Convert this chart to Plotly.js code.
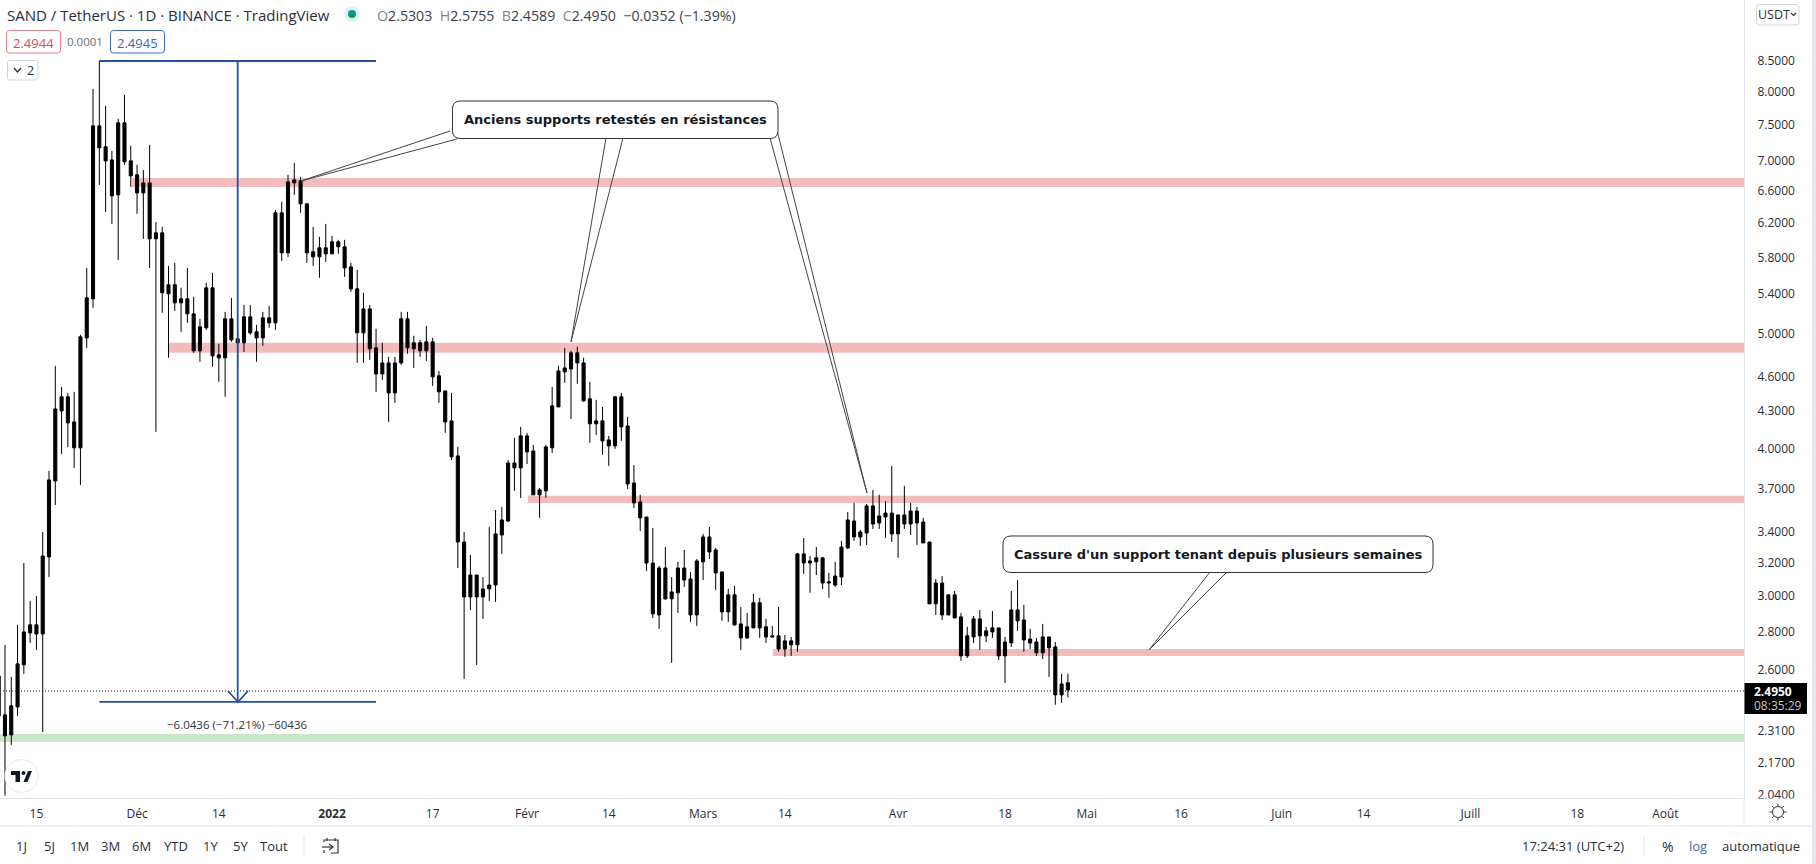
<!DOCTYPE html>
<html><head><meta charset="utf-8">
<script src="https://cdn.plot.ly/plotly-3.0.1.min.js"></script>
<style>html,body{margin:0;padding:0;background:#fff;overflow:hidden}#c{width:1816px;height:864px}</style>
</head><body><div id="c"></div>
<script>
const firstDay = '2021-11-09';
const opens = [2.564,2.377,2.286,2.414,2.620,2.788,2.832,2.782,3.232,3.747,4.294,4.413,4.203,3.996,4.949,5.340,7.476,7.177,6.997,6.537,7.520,6.984,6.796,6.562,6.691,6.001,6.071,5.392,5.488,5.298,5.340,5.186,4.826,5.047,5.455,4.789,4.761,5.136,4.940,4.902,5.156,5.008,4.949,5.146,5.096,6.312,5.840,6.691,6.717,6.424,5.851,5.794,5.897,5.828,5.966,5.909,5.682,5.445,4.998,5.236,4.854,4.614,4.714,4.447,4.714,5.136,4.845,4.902,4.826,4.911,4.597,4.464,4.211,3.934,3.327,2.990,3.120,2.990,3.037,3.060,3.373,3.466,3.880,3.843,4.090,3.972,3.647,3.675,3.996,4.327,4.632,4.659,4.807,4.714,4.396,4.187,4.211,4.058,4.011,4.413,4.170,3.732,3.597,3.493,3.194,2.887,3.163,2.979,3.014,3.163,3.096,2.887,3.201,3.360,3.276,3.139,2.904,3.002,2.837,2.761,2.815,2.956,2.821,2.772,2.772,2.702,2.724,2.724,3.251,3.194,3.201,3.226,3.072,3.060,3.108,3.289,3.466,3.360,3.386,3.569,3.453,3.493,3.520,3.380,3.507,3.446,3.534,3.459,3.327,2.950,3.072,2.887,3.002,2.876,2.666,2.766,2.865,2.772,2.793,2.815,2.666,2.734,2.915,2.859,2.755,2.739,2.682,2.766,2.713,2.471,2.5303];
const closes = [2.372,2.282,2.419,2.625,2.793,2.832,2.782,3.238,3.754,4.310,4.413,4.195,3.996,4.959,5.350,7.476,7.163,6.984,6.524,7.520,6.970,6.783,6.562,6.691,6.001,6.071,5.403,5.488,5.298,5.340,5.186,4.826,5.057,5.455,4.779,4.761,5.136,4.930,4.902,5.156,4.998,4.949,5.146,5.096,6.312,5.840,6.704,6.730,6.424,5.840,5.794,5.897,5.828,5.966,5.909,5.671,5.445,4.998,5.236,4.845,4.614,4.714,4.447,4.714,5.136,4.854,4.902,4.826,4.911,4.588,4.456,4.203,3.926,3.327,2.990,3.120,2.990,3.037,3.060,3.380,3.473,3.880,3.843,4.090,3.965,3.647,3.682,4.003,4.336,4.641,4.668,4.807,4.714,4.379,4.187,4.211,4.050,4.011,4.413,4.162,3.725,3.590,3.487,3.194,2.893,3.163,2.979,3.019,3.163,3.090,2.887,3.207,3.360,3.263,3.133,2.904,3.002,2.832,2.761,2.821,2.956,2.815,2.766,2.766,2.702,2.745,2.745,3.251,3.194,3.207,3.226,3.072,3.078,3.114,3.295,3.473,3.360,3.393,3.569,3.446,3.500,3.520,3.380,3.507,3.446,3.534,3.453,3.321,2.950,3.072,2.887,3.002,2.870,2.666,2.772,2.865,2.772,2.799,2.815,2.666,2.739,2.915,2.854,2.750,2.734,2.682,2.766,2.708,2.471,2.524,2.4950];
const highs = [2.594,2.723,2.559,2.832,3.194,2.967,2.996,3.393,3.821,4.687,4.499,4.447,4.456,4.979,5.671,8.034,8.484,7.773,7.121,7.578,7.941,7.191,6.930,6.862,7.205,6.202,6.142,5.693,5.727,5.456,5.671,5.361,5.136,5.509,5.617,4.892,5.206,5.350,5.027,5.277,5.277,5.076,5.206,5.267,6.349,6.449,6.796,6.957,6.770,6.424,6.142,6.024,6.178,6.036,5.989,5.989,5.727,5.649,5.403,5.277,5.037,4.902,4.770,4.770,5.206,5.206,4.969,4.930,5.066,4.949,4.641,4.464,4.447,4.003,3.393,3.244,3.120,3.108,3.426,3.541,3.562,3.903,4.074,4.162,4.114,4.019,3.696,4.019,4.499,4.687,4.854,4.826,4.864,4.761,4.543,4.387,4.327,4.090,4.421,4.447,4.244,3.865,3.647,3.493,3.419,3.176,3.295,3.108,3.201,3.276,3.139,3.219,3.380,3.426,3.289,3.139,3.037,3.055,2.932,2.898,3.008,2.985,2.865,2.826,2.932,2.777,2.766,3.257,3.353,3.238,3.295,3.232,3.133,3.201,3.334,3.527,3.590,3.406,3.583,3.682,3.647,3.604,3.858,3.507,3.711,3.590,3.562,3.487,3.327,3.096,3.114,3.002,3.025,2.898,2.821,2.881,2.915,2.821,2.909,2.815,2.766,3.025,3.090,2.944,2.810,2.761,2.837,2.766,2.739,2.574,2.5755];
const lows = [2.345,2.031,2.242,2.372,2.574,2.734,2.697,2.299,3.108,3.576,3.949,4.003,3.843,3.718,4.854,5.247,6.665,6.324,6.178,5.760,6.930,6.639,6.300,6.001,5.671,4.122,5.196,4.761,5.216,5.008,5.096,4.807,4.724,5.027,4.678,4.543,4.413,4.911,4.668,4.816,4.979,4.724,4.873,5.047,5.027,5.749,5.794,6.537,6.312,5.727,5.693,5.563,5.738,5.828,5.828,5.573,5.413,4.714,4.714,4.742,4.456,4.561,4.203,4.362,4.696,4.798,4.668,4.770,4.733,4.508,4.362,4.114,3.903,3.163,2.549,2.915,2.619,2.865,2.967,2.961,3.251,3.459,3.675,3.625,3.873,3.647,3.487,3.625,3.957,4.327,4.535,4.227,4.526,4.370,4.035,4.098,3.942,3.858,3.988,4.050,3.689,3.555,3.399,3.145,2.870,2.810,2.973,2.630,2.898,3.049,2.848,2.826,3.090,3.219,3.031,2.854,2.848,2.826,2.697,2.755,2.815,2.761,2.734,2.766,2.687,2.661,2.666,2.687,3.127,3.014,3.120,3.037,2.985,3.049,3.060,3.282,3.334,3.302,3.308,3.413,3.413,3.353,3.327,3.226,3.413,3.373,3.308,3.321,2.950,2.887,2.859,2.887,2.870,2.640,2.655,2.734,2.697,2.739,2.761,2.645,2.529,2.713,2.799,2.687,2.702,2.666,2.650,2.559,2.424,2.433,2.4589];

const xTickDates = ['2021-11-15','2021-12-01','2021-12-14','2022-01-01','2022-01-17','2022-02-01','2022-02-14','2022-03-01','2022-03-14','2022-04-01','2022-04-18','2022-05-01','2022-05-16','2022-06-01','2022-06-14','2022-07-01','2022-07-18','2022-08-01'];
const xTickLabels = ['15','Déc','14','<b>2022</b>','17','Févr','14','Mars','14','Avr','18','Mai','16','Juin','14','Juill','18','Août'];
const yTicks = [9.5,8.5,8,7.5,7,6.6,6.2,5.8,5.4,5,4.6,4.3,4,3.7,3.4,3.2,3,2.8,2.6,2.31,2.17,2.04];
const zoneStarts = ['2021-11-30 05:00','2021-12-05 22:00','2022-02-01 03:00','2022-03-12 02:00'];
const zoneTops = [6.756,4.902,3.640,2.702];
const zoneBottoms = [6.639,4.807,3.590,2.666];
const supportTop = 2.290, supportBottom = 2.255;
const measureTop = 8.4817, measureBottom = 2.4381;
const measureStart = '2021-11-25', measureMid = '2021-12-17', measureEnd = '2022-01-08';

const dates = opens.map((_, i) => new Date(Date.parse(firstDay + 'T00:00:00Z') + i * 864e5).toISOString().slice(0, 10));

const PW = 1744, PH = 798;
const X = p => p / PW, Y = p => 1 - p / PH;
const UI = '"Open Sans", sans-serif', BOLD = '"DejaVu Sans", sans-serif';
const shapes = [], ann = [];
const base = {xref:'paper', yref:'paper'};
function rect(x0,y0,x1,y1,fill,line,lw,layer){shapes.push({...base,type:'rect',x0:X(x0),x1:X(x1),y0:Y(y0),y1:Y(y1),fillcolor:fill||'rgba(0,0,0,0)',line:{color:line||'rgba(0,0,0,0)',width:lw===undefined?(line?1:0):lw},layer:layer||'above'});}
function poly(pts,color,w,fill,close){let d=pts.map((p,i)=>(i?'L':'M')+X(p[0]).toFixed(6)+' '+Y(p[1]).toFixed(6)).join(' ')+(close?' Z':'');shapes.push({...base,type:'path',path:d,line:{color:color||'rgba(0,0,0,0)',width:w===undefined?1:w},fillcolor:fill||'rgba(0,0,0,0)',layer:'above'});}
function rrect(x0,y0,x1,y1,r,fill,line,lw){const f=(x,y)=>X(x).toFixed(6)+' '+Y(y).toFixed(6);const d=`M${f(x0+r,y0)} L${f(x1-r,y0)} Q${f(x1,y0)} ${f(x1,y0+r)} L${f(x1,y1-r)} Q${f(x1,y1)} ${f(x1-r,y1)} L${f(x0+r,y1)} Q${f(x0,y1)} ${f(x0,y1-r)} L${f(x0,y0+r)} Q${f(x0,y0)} ${f(x0+r,y0)} Z`;shapes.push({...base,type:'path',path:d,fillcolor:fill||'#fff',line:{color:line,width:lw===undefined?1:lw},layer:'above'});}
function circ(cx,cy,r,fill,line,lw){shapes.push({...base,type:'circle',x0:X(cx-r),x1:X(cx+r),y0:Y(cy-r),y1:Y(cy+r),fillcolor:fill||'rgba(0,0,0,0)',line:{color:line||'rgba(0,0,0,0)',width:lw===undefined?(line?1:0):lw},layer:'above'});}
function T(text,x,y,size,color,anchor,family){ann.push({xref:'paper',yref:'paper',x:X(x),y:Y(y),text,showarrow:false,xanchor:anchor||'center',yanchor:'middle',font:{size,color:color||'#131722',family:family||UI},borderpad:0,borderwidth:0});}

// horizontal zones (data coords, under the candles)
zoneStarts.forEach((s,i)=>shapes.push({type:'rect',xref:'x',yref:'y',x0:s,x1:'2022-08-14',y0:zoneBottoms[i],y1:zoneTops[i],fillcolor:'#f2bcbc',line:{width:0},layer:'below'}));
shapes.push({type:'rect',xref:'x',yref:'y',x0:'2021-11-01',x1:'2022-08-14',y0:supportBottom,y1:supportTop,fillcolor:'#c9e6ca',line:{width:0},layer:'below'});
// last price dotted line
poly([[3,691],[1744,691]],'#131722',1);
shapes[shapes.length-1].line.dash='1px,2px';
// measuring tool
const BLUE='#23509f';
[[measureStart,measureEnd,measureTop,measureTop],[measureStart,measureEnd,measureBottom,measureBottom],[measureMid,measureMid,measureTop,measureBottom]].forEach(a=>shapes.push({type:'line',xref:'x',yref:'y',x0:a[0],x1:a[1],y0:a[2],y1:a[3],line:{color:BLUE,width:1.8},layer:'above'}));
poly([[228,691],[238,702],[248,691]],BLUE,1.8);
T('−6.0436 (−71.21%) −60436',237,724,11.5,'#333');

// callouts
const LC='#444';
poly([[450,131],[301,181],[457,139]],LC,1);
poly([[606,138],[571,342],[623,138]],LC,1);
poly([[770,138],[867,493],[777,130]],LC,1);
poly([[1210,572],[1149,650],[1227,572]],LC,1);
rrect(452.5,101,778,138.5,8,'#fff','#333',1);
rrect(1003,536,1433,572.5,8,'#fff','#333',1);
T('<b>Anciens supports retestés en résistances</b>',615,119.5,13,'#131722','center',BOLD);
T('<b>Cassure d\'un support tenant depuis plusieurs semaines</b>',1218,554.5,13,'#131722','center',BOLD);

// header
T('SAND / TetherUS · 1D · BINANCE · TradingView',7,15,15,'#2a2e39','left');
circ(352,14,8,'#dff3ee');circ(352,14,4,'#089981');
const gv=s=>`<span style="color:#808591">${s}</span>`;
const sp='\u00a0\u00a0';
T(`${gv('O')}2.5303${sp}${gv('H')}2.5755${sp}${gv('B')}2.4589${sp}${gv('C')}2.4950${sp}−0.0352 (−1.39%)`,377,15,14.2,'#3c404b','left');
rrect(6.5,30.5,60.5,53,3,'#fff','#d9838a',1);T('2.4944',33.5,42.5,13,'#d0505a');
T('0.0001',85,42,11.5,'#6a6d78');
rrect(110.5,30.5,164.5,53,3,'#fff','#3f68b5',1);T('2.4945',137.5,42.5,13,'#3f68b5');
rrect(7.5,60.5,38,80,2,'#fff','#d1d4dc',1);poly([[14,68],[17.5,72],[21,68]],'#333',1.4);T('2',30,70.5,12.5,'#333');

// TradingView logo
circ(21.5,776,16.5,'#fff','#ebebeb',1);
poly([[11,771],[20,771],[20,782],[15.5,782],[15.5,775],[11,775]],null,0,'#131722',true);
circ(23.5,773,2,'#131722');
poly([[23.5,782],[28,771],[32,771],[27.5,782]],null,0,'#131722',true);

// axis panels
rect(1744.5,798.5,1812,826,'#fff');
rect(1812,0,1816,864,'#e6e7ee');
poly([[0,826],[1812,826]],'#e0e3eb',1);
poly([[1744,798],[1744,826]],'#e0e3eb',1);
circ(1778,812,5.5,null,'#333',1);
[[1778,803.5,1778,806],[1778,818,1778,820.5],[1769.5,812,1772,812],[1784,812,1786.5,812],[1772,806,1773.7,807.7],[1784,806,1782.3,807.7],[1772,818,1773.7,816.3],[1784,818,1782.3,816.3]].forEach(s=>poly([[s[0],s[1]],[s[2],s[3]]],'#333',1));

// price axis widgets
rrect(1756.5,4.5,1799,25,3,'#fff','#d1d4dc',1);T('USDT',1774,14.5,12.5,'#333');poly([[1791,13],[1793.5,15.5],[1796,13]],'#333',1.2);
rect(1744.5,683,1807,714,'#000');
T('<b>2.4950</b>',1754,691.5,12,'#fff','left');T('08:35:29',1754,705.5,12,'#c8c8c8','left');

// bottom toolbar
[['1J',21],['5J',49],['1M',79],['3M',110],['6M',141],['YTD',176],['1Y',210],['5Y',240],['Tout',274]].forEach(b=>T(b[0],b[1],846,13,'#2a2e39'));
poly([[304,836],[304,857]],'#e0e3eb',1);
poly([[324,842],[324,840],[338,840],[338,853],[331,853]],'#333',1.2);
poly([[322,847],[333,847]],'#333',1.2);poly([[329,844],[333,847],[329,850]],'#333',1.2);poly([[324,850],[324,853]],'#333',1.2);
poly([[327,838],[327,841]],'#333',1.2);poly([[335,838],[335,841]],'#333',1.2);
T('17:24:31 (UTC+2)',1573,846,13,'#2a2e39');
poly([[1644,836],[1644,856]],'#e0e3eb',1);
T('%',1668,846,14,'#2a2e39');T('log',1698,846,13,'#3f68b5');T('automatique',1761,846,13,'#2a2e39');

const trace = {type:'candlestick',x:dates,open:opens,high:highs,low:lows,close:closes,whiskerwidth:0,hoverinfo:'x',showlegend:false,
  increasing:{line:{color:'#000',width:1},fillcolor:'#000'},decreasing:{line:{color:'#000',width:1},fillcolor:'#000'}};

const layout = {width:1816,height:864,margin:{l:0,r:72,t:0,b:66,pad:0},paper_bgcolor:'#fff',plot_bgcolor:'#fff',showlegend:false,
  xaxis:{type:'date',range:['2021-11-09 05:00','2022-08-13 12:00'],rangeslider:{visible:false},tickmode:'array',tickvals:xTickDates,ticktext:xTickLabels,tickangle:0,
    showgrid:false,zeroline:false,showline:true,linecolor:'#e0e3eb',linewidth:1,ticks:'outside',ticklen:5,tickcolor:'rgba(0,0,0,0)',tickfont:{family:UI,size:12,color:'#2a2e39'},automargin:false},
  yaxis:{type:'log',side:'right',range:[Math.log10(2.022),Math.log10(9.55)],tickmode:'array',tickvals:yTicks,ticktext:yTicks.map(v=>v.toFixed(4)),ticklabelshift:1,
    showgrid:false,zeroline:false,showline:true,linecolor:'#e0e3eb',linewidth:1,ticks:'outside',ticklen:10,tickcolor:'rgba(0,0,0,0)',tickfont:{family:UI,size:12,color:'#2a2e39'},automargin:false},
  shapes,annotations:ann,dragmode:false};
Plotly.newPlot('c',[trace],layout,{displayModeBar:false,responsive:false,staticPlot:true});
</script></body></html>
